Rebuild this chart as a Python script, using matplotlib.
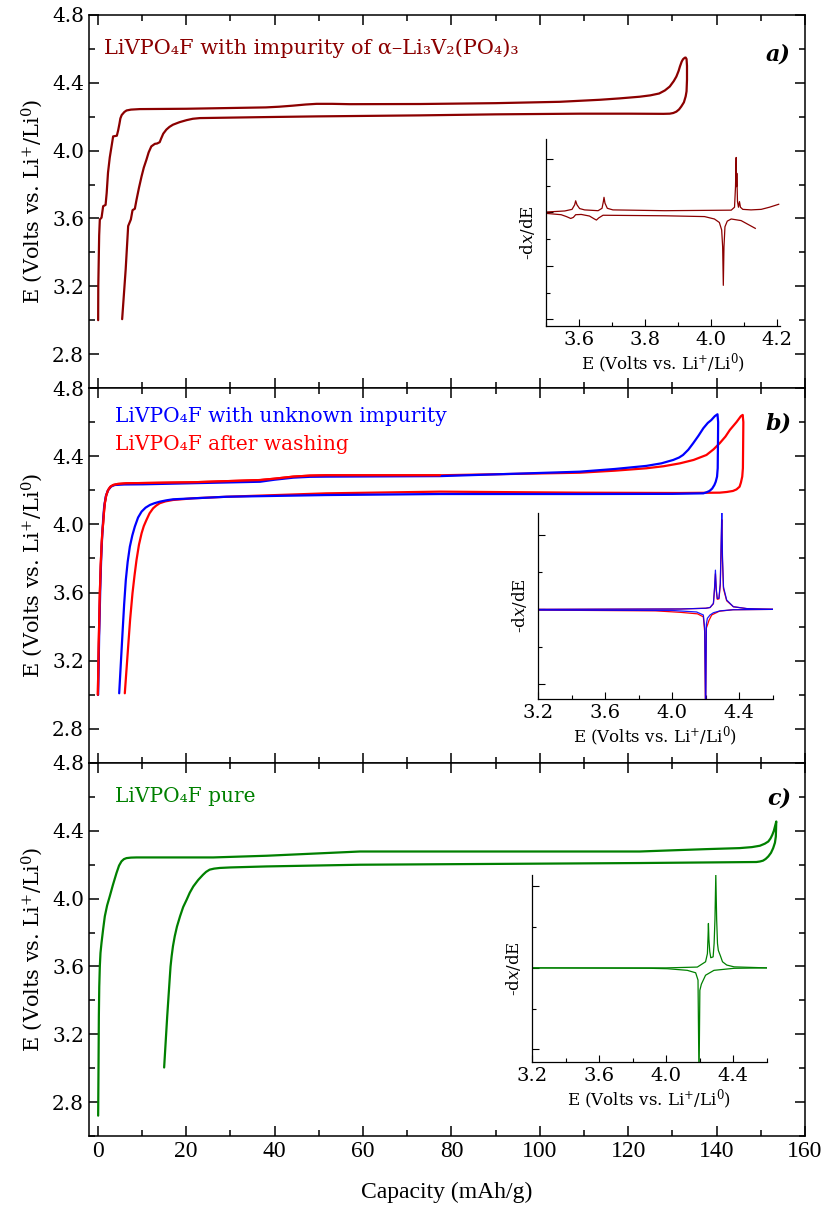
import matplotlib
matplotlib.use("Agg")
import matplotlib.pyplot as plt
from matplotlib.ticker import MultipleLocator, NullFormatter, FormatStrFormatter

plt.rcParams['font.family'] = ['DejaVu Serif', 'DejaVu Sans']
plt.rcParams['mathtext.fontset'] = 'dejavuserif'

# ---------------- data: main galvanostatic cycles (capacity mAh/g, E V) ----------------
a_q = [0.07, 0.1, 0.3, 0.45, 0.84, 1.2, 1.75, 2.0, 2.3, 2.7, 3.1, 3.46, 4.3, 4.6, 4.9, 5.1, 5.4, 6.0, 6.5, 7.5, 9.5,
       20, 38, 41, 44, 47, 49.5, 53, 57, 73, 90, 104.5, 113.6, 118, 122.6, 125, 127, 128.3, 129.4, 130.3, 130.9,
       131.4, 131.7, 132.1, 132.4, 132.8, 133.0, 133.2, 133.3,
       133.3, 133.2, 133.0, 132.6, 132.0, 131.5, 130.9, 130.2, 129.4, 128, 120, 109, 90, 72.9, 49.5, 38.2, 23.1,
       21.5, 20.1, 18.5, 17.0, 16.2, 15.5, 14.8, 14.3, 14.0, 13.4, 12.9, 12.1, 11.5, 11.0, 10.4, 9.9, 9.3, 8.75,
       8.37, 7.85, 7.47, 6.86, 6.3, 5.5]
a_v = [3.0, 3.2, 3.5, 3.594, 3.605, 3.672, 3.68, 3.75, 3.87, 3.96, 4.025, 4.084, 4.088, 4.12, 4.16, 4.19, 4.21, 4.228, 4.237, 4.242, 4.245,
       4.247, 4.255, 4.259, 4.265, 4.272, 4.276, 4.276, 4.274, 4.275, 4.28, 4.288, 4.30, 4.308, 4.318, 4.326, 4.337, 4.355, 4.378, 4.41, 4.437,
       4.47, 4.496, 4.525, 4.539, 4.548, 4.549, 4.54, 4.50,
       4.418, 4.35, 4.32, 4.285, 4.26, 4.243, 4.23, 4.222, 4.218, 4.217, 4.218, 4.218, 4.214, 4.208, 4.202, 4.198, 4.192,
       4.188, 4.18, 4.168, 4.153, 4.14, 4.124, 4.10, 4.07, 4.05, 4.042, 4.04, 4.025, 3.99, 3.947, 3.9, 3.849, 3.78, 3.71,
       3.657, 3.649, 3.594, 3.555, 3.3, 3.006]

b_red_q = [0.0, 0.2, 0.45, 0.65, 0.83, 1.0, 1.2, 1.4, 1.58, 1.9, 2.3, 2.8, 3.47, 4.5, 6.5, 21.6, 36.7, 40, 44.2, 48, 51.7, 77.4,
           109, 117, 124.1, 128, 131.7, 134.8, 137.7, 139.3, 140.7, 142, 143.0, 144.5, 145.5, 145.9,
           146.05, 146.0, 145.95, 145.8, 145.5, 145.2, 144.5, 143.7, 142.3, 140.7, 131.7, 109, 77.4, 51.7, 29.1, 21.6,
           17.0, 15.3, 14.0, 13.2, 12.5, 11.7, 11.0, 10.4, 9.9, 9.3, 8.75, 8.3, 7.84, 7.3, 6.86, 6.1]
b_red_v = [3.0, 3.3, 3.596, 3.76, 3.869, 3.95, 4.006, 4.075, 4.124, 4.17, 4.2, 4.22, 4.231, 4.237, 4.241, 4.247, 4.26, 4.268, 4.28, 4.286, 4.288, 4.288,
           4.303, 4.315, 4.329, 4.341, 4.358, 4.378, 4.407, 4.44, 4.476, 4.515, 4.554, 4.60, 4.635, 4.642,
           4.6, 4.456, 4.33, 4.28, 4.245, 4.221, 4.205, 4.196, 4.19, 4.186, 4.184, 4.186, 4.192, 4.182, 4.162, 4.153,
           4.143, 4.135, 4.124, 4.11, 4.094, 4.065, 4.026, 3.99, 3.948, 3.88, 3.791, 3.7, 3.596, 3.44, 3.283, 3.009]

b_blue_q = [0.07, 0.3, 0.6, 0.8, 0.98, 1.2, 1.43, 1.8, 2.3, 3.0, 3.85, 6, 10.2, 36.7, 40, 44.2, 48, 51.7, 77.4,
            109, 117, 124.1, 127.5, 130.2, 131.5, 132.4, 133.6, 134.7, 135.9, 137.0, 138.0, 138.8, 139.6, 140.2,
            140.35, 140.3, 140.25, 140.1, 139.8, 139.5, 139.0, 138.4, 137.7, 137.0, 130, 109, 77.4, 51.7, 29.1,
            17.0, 15.5, 14.0, 12.8, 11.8, 10.8, 9.9, 9.1, 8.37, 7.8, 7.24, 6.75, 6.33, 5.95, 5.58, 4.83]
b_blue_v = [3.0, 3.35, 3.674, 3.83, 3.928, 4.03, 4.104, 4.165, 4.2, 4.222, 4.231, 4.234, 4.235, 4.25, 4.262, 4.274, 4.279, 4.28, 4.283,
            4.309, 4.325, 4.343, 4.358, 4.378, 4.392, 4.407, 4.438, 4.476, 4.52, 4.564, 4.595, 4.612, 4.635, 4.646,
            4.6, 4.456, 4.33, 4.28, 4.25, 4.231, 4.21, 4.196, 4.188, 4.182, 4.179, 4.178, 4.178, 4.172, 4.162,
            4.147, 4.141, 4.133, 4.124, 4.114, 4.098, 4.075, 4.04, 3.987, 3.935, 3.869, 3.78, 3.674, 3.53, 3.361, 3.009]

c_q = [0.07, 0.15, 0.23, 0.32, 0.45, 0.6, 0.83, 1.2, 1.58, 2.1, 2.7, 3.4, 4.22, 4.8, 5.35, 5.9, 6.48, 7.5, 8.75, 26.1,
       38.2, 59.3, 122.6, 130, 137.7, 145.2, 148, 149.8, 150.9, 151.7, 152.2, 152.6, 152.95, 153.2, 153.4, 153.5,
       153.45, 153.4, 153.2, 152.8, 152.3, 151.7, 151.1, 150.5, 149.8, 149.0, 122.6, 59.3, 38.2, 30, 27.6, 26.3,
       25.3, 24.5, 23.8, 22.7, 21.6, 20.8, 20.1, 19.3, 18.6, 17.9, 17.4, 17.0, 16.7, 16.45, 16.3, 15.7, 15.0]
c_v = [2.72, 3.0, 3.308, 3.48, 3.602, 3.68, 3.739, 3.82, 3.896, 3.96, 4.014, 4.08, 4.151, 4.195, 4.22, 4.233, 4.239, 4.242, 4.243, 4.243,
       4.253, 4.278, 4.278, 4.285, 4.292, 4.298, 4.304, 4.312, 4.324, 4.337, 4.355, 4.376, 4.40, 4.425, 4.445, 4.455,
       4.41, 4.366, 4.33, 4.298, 4.27, 4.249, 4.234, 4.224, 4.219, 4.216, 4.21, 4.2, 4.19, 4.184, 4.181, 4.177,
       4.171, 4.158, 4.141, 4.11, 4.072, 4.035, 3.994, 3.95, 3.896, 3.835, 3.778, 3.72, 3.661, 3.6, 3.543, 3.308, 3.004]

# ---------------- data: insets -dx/dE (arbitrary units) ----------------
ia_ch_e = [3.50, 3.557, 3.579, 3.587, 3.590, 3.594, 3.602, 3.617, 3.658, 3.670, 3.674, 3.676, 3.679, 3.686, 3.703, 3.860,
           4.062, 4.072, 4.075, 4.077, 4.078, 4.079, 4.081, 4.084, 4.087, 4.090, 4.097, 4.122, 4.153, 4.178, 4.206]
ia_ch_y = [0.01, 0.05, 0.11, 0.28, 0.43, 0.28, 0.14, 0.09, 0.06, 0.15, 0.40, 0.56, 0.34, 0.15, 0.09, 0.06,
           0.08, 0.19, 0.96, 2.05, 0.96, 1.46, 0.40, 0.19, 0.40, 0.19, 0.11, 0.09, 0.11, 0.19, 0.30]
ia_dis_e = [3.50, 3.546, 3.562, 3.575, 3.583, 3.590, 3.607, 3.632, 3.647, 3.653, 3.660, 3.673, 3.860, 3.981, 4.011, 4.026,
            4.033, 4.036, 4.038, 4.040, 4.043, 4.050, 4.062, 4.092, 4.135]
ia_dis_y = [-0.04, -0.09, -0.16, -0.23, -0.19, -0.09, -0.08, -0.14, -0.25, -0.29, -0.21, -0.11, -0.13, -0.16, -0.25, -0.38,
            -0.66, -1.29, -2.73, -1.29, -0.54, -0.33, -0.25, -0.31, -0.60]

ib_ch_e = [3.20, 4.05, 4.20, 4.225, 4.245, 4.252, 4.257, 4.262, 4.268, 4.278, 4.286, 4.291, 4.295, 4.299, 4.305, 4.324, 4.364, 4.444, 4.60]
ib_blue_ch_y = [0.0, 0.01, 0.03, 0.05, 0.16, 0.60, 1.05, 0.55, 0.29, 0.30, 0.70, 1.80, 2.62, 1.40, 0.60, 0.25, 0.07, 0.02, 0.0]
ib_red_ch_y = [0.0, 0.01, 0.03, 0.05, 0.15, 0.55, 0.95, 0.50, 0.27, 0.28, 0.65, 1.65, 2.40, 1.30, 0.55, 0.23, 0.07, 0.02, 0.0]
ib_blue_dis_e = [3.20, 4.00, 4.145, 4.185, 4.193, 4.199, 4.203, 4.209, 4.225, 4.245, 4.285, 4.364, 4.60]
ib_blue_dis_y = [-0.02, -0.03, -0.07, -0.15, -0.50, -3.0, -0.40, -0.24, -0.15, -0.09, -0.04, -0.01, 0.0]
ib_red_dis_e = [3.20, 3.90, 4.05, 4.15, 4.185, 4.193, 4.198, 4.203, 4.211, 4.218, 4.235, 4.28, 4.36, 4.60]
ib_red_dis_y = [-0.02, -0.04, -0.08, -0.12, -0.20, -0.60, -2.9, -0.50, -0.40, -0.30, -0.15, -0.05, -0.01, 0.0]

ic_ch_e = [3.20, 4.00, 4.185, 4.234, 4.245, 4.249, 4.251, 4.254, 4.259, 4.265, 4.279, 4.285, 4.290, 4.295, 4.300, 4.305,
           4.310, 4.322, 4.335, 4.360, 4.404, 4.60]
ic_ch_y = [0.0, 0.0, 0.02, 0.15, 0.35, 0.80, 1.09, 0.70, 0.40, 0.25, 0.27, 0.60, 1.20, 2.3, 1.20, 0.60,
           0.43, 0.30, 0.15, 0.07, 0.025, 0.0]
ic_dis_e = [3.20, 3.90, 4.006, 4.125, 4.175, 4.189, 4.195, 4.200, 4.209, 4.234, 4.284, 4.404, 4.60]
ic_dis_y = [0.0, -0.01, -0.02, -0.06, -0.12, -0.30, -2.8, -0.55, -0.40, -0.18, -0.06, -0.01, 0.0]

ytick_vals = [4.8, 4.4, 4.0, 3.6, 3.2, 2.8]

DARKRED = '#8b0000'
BLUE = '#0000ff'
RED = '#ff0000'
GREEN = '#008000'

W, H = 825, 1216
fig = plt.figure(figsize=(W / 100, H / 100), dpi=100)

def fr(x0, y0, x1, y1):
    return [x0 / W, 1 - y1 / H, (x1 - x0) / W, (y1 - y0) / H]

panels = [fr(89, 15, 805, 388), fr(89, 388, 805, 763), fr(89, 763, 805, 1136)]
axes = [fig.add_axes(p) for p in panels]

for i, ax in enumerate(axes):
    ax.set_xlim(-2, 160)
    ax.set_ylim(2.6, 4.8)
    ax.set_yticks(ytick_vals)
    ax.yaxis.set_minor_locator(MultipleLocator(0.2))
    ax.xaxis.set_major_locator(MultipleLocator(20))
    ax.xaxis.set_minor_locator(MultipleLocator(10))
    ax.tick_params(which='both', direction='in', top=True, right=True, width=1.1)
    ax.tick_params(which='major', length=7.5, labelsize=14.5)
    ax.tick_params(which='minor', length=4)
    for s in ax.spines.values():
        s.set_linewidth(1.1)
    if i < 2:
        ax.tick_params(labelbottom=False)

for lab in axes[2].get_xticklabels():
    lab.set_fontfamily('Liberation Serif')
    lab.set_fontsize(17)

lw = 1.6
kw = dict(lw=lw, solid_joinstyle='round', solid_capstyle='round')
axes[0].plot(a_q, a_v, color=DARKRED, **kw)
axes[1].plot(b_red_q, b_red_v, color=RED, **kw)
axes[1].plot(b_blue_q, b_blue_v, color=BLUE, **kw)
axes[1].plot(b_red_q[:22], b_red_v[:22], color=RED, **kw)
axes[2].plot(c_q, c_v, color=GREEN, **kw)

ylab = 'E (Volts vs. Li$^{+}$/Li$^{0}$)'
for p in panels:
    fig.text(32 / W, p[1] + p[3] / 2, ylab, rotation=90, ha='center', va='center', fontsize=15)

fig.text(447 / W, 1 - 1192 / H, 'Capacity (mAh/g)', ha='center', va='center', fontsize=17,
         family='Liberation Serif')

fig.text(104 / W, 1 - 48 / H, 'LiVPO₄F with impurity of α–Li₃V₂(PO₄)₃', color=DARKRED,
         fontsize=15, va='center', ha='left')
fig.text(115 / W, 1 - 416 / H, 'LiVPO₄F with unknown impurity', color=BLUE,
         fontsize=14.5, va='center', ha='left')
fig.text(115 / W, 1 - 445 / H, 'LiVPO₄F after washing', color=RED,
         fontsize=14.5, va='center', ha='left')
fig.text(115 / W, 1 - 797 / H, 'LiVPO₄F pure', color=GREEN,
         fontsize=14.5, va='center', ha='left')

for lbl, yy in [('a)', 54), ('b)', 424), ('c)', 798)]:
    fig.text(791 / W, 1 - yy / H, lbl, fontsize=16, fontweight='bold', fontstyle='italic',
             ha='right', va='center')

# ---------------- insets ----------------
def make_inset(rect, xlim, ylim, xmaj, xmin_, yticks_major, yticks_minor):
    ax = fig.add_axes(rect)
    ax.set_xlim(*xlim)
    ax.set_ylim(*ylim)
    ax.spines['top'].set_visible(False)
    ax.spines['right'].set_visible(False)
    for s in ('left', 'bottom'):
        ax.spines[s].set_linewidth(0.9)
    ax.xaxis.set_major_locator(MultipleLocator(xmaj))
    ax.xaxis.set_minor_locator(MultipleLocator(xmin_))
    ax.xaxis.set_major_formatter(FormatStrFormatter('%.1f'))
    ax.set_yticks(yticks_major)
    ax.set_yticks(yticks_minor, minor=True)
    ax.yaxis.set_major_formatter(NullFormatter())
    ax.tick_params(which='both', direction='in', width=0.8)
    ax.tick_params(which='major', length=5, labelsize=14)
    ax.tick_params(which='minor', length=3)
    ax.set_xlabel(ylab, fontsize=12, labelpad=2)
    ax.set_ylabel('-d$x$/dE', fontsize=12, labelpad=3)
    ax.patch.set_alpha(0)
    return ax

ia = make_inset(fr(546, 139, 780, 326), (3.5, 4.21), (-4.25, 2.74), 0.2, 0.1, [-4, -2, 0, 2], [-3, -1, 1])
ia.plot(ia_ch_e, ia_ch_y, color=DARKRED, lw=0.9)
ia.plot(ia_dis_e, ia_dis_y, color=DARKRED, lw=0.9)

ib = make_inset(fr(538, 513, 773, 699), (3.2, 4.6), (-2.4, 2.58), 0.4, 0.2, [-2, 0, 2], [-1, 1])
ib.plot(ib_ch_e, ib_red_ch_y, color=RED, lw=0.9)
ib.plot(ib_red_dis_e, ib_red_dis_y, color=RED, lw=0.9)
ib.plot(ib_ch_e, ib_blue_ch_y, color=BLUE, lw=0.9, alpha=0.9)
ib.plot(ib_blue_dis_e, ib_blue_dis_y, color=BLUE, lw=0.9, alpha=0.9)

ic = make_inset(fr(532, 875, 767, 1062), (3.2, 4.6), (-2.31, 2.28), 0.4, 0.2, [-2, 0, 2], [-1, 1])
ic.plot(ic_ch_e, ic_ch_y, color=GREEN, lw=0.9)
ic.plot(ic_dis_e, ic_dis_y, color=GREEN, lw=0.9)

fig.savefig('out.png', dpi=100)
